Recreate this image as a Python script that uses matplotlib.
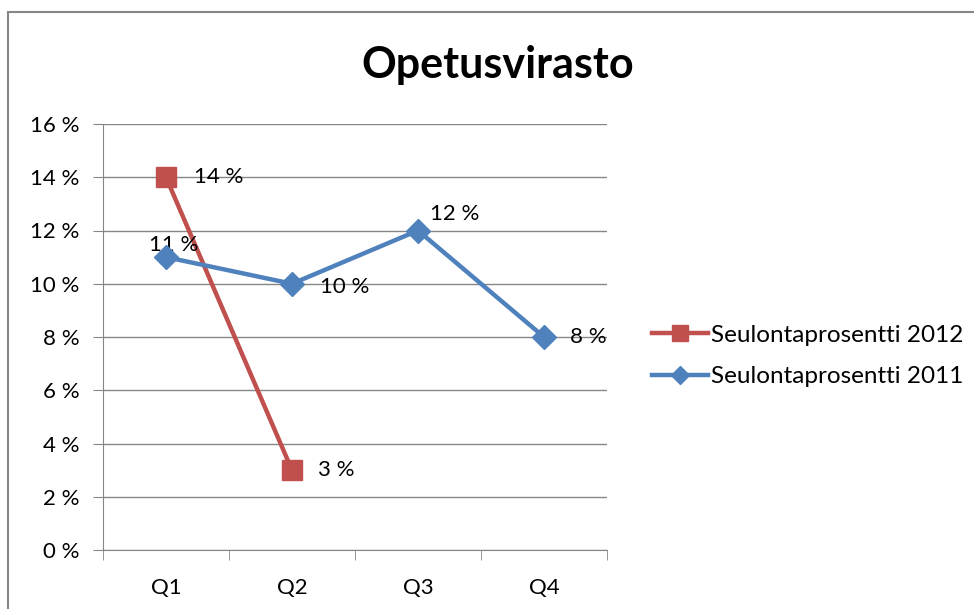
import matplotlib
matplotlib.use("Agg")
import matplotlib.pyplot as plt
from matplotlib.patches import Rectangle
from matplotlib.ticker import FuncFormatter

plt.rcParams["font.family"] = ["Lato", "DejaVu Sans"]

quarters = ["Q1", "Q2", "Q3", "Q4"]
pct_2012 = [14, 3]
pct_2011 = [11, 10, 12, 8]
RED = "#C0504D"
BLUE = "#4F81BD"

fig = plt.figure(figsize=(9.74, 6.09), dpi=100)
# chart frame (cropped at right/bottom in the reference)
fig.patches.append(Rectangle((8 / 974, -0.05), 1.2, 1 - 12 / 609 + 0.05,
                             transform=fig.transFigure, fill=False,
                             edgecolor="#878787", lw=1.5))

ax = fig.add_axes([103 / 974, 1 - 550 / 609, (607 - 103) / 974, (550 - 124) / 609])
x = list(range(len(quarters)))

l12, = ax.plot(x[:len(pct_2012)], pct_2012, color=RED, lw=3.2, marker="s", ms=15,
               label="Seulontaprosentti 2012", zorder=3)
l11, = ax.plot(x, pct_2011, color=BLUE, lw=3.2, marker="D", ms=12,
               label="Seulontaprosentti 2011", zorder=4)

# data labels
offs12 = [(20, 0), (19, 0)]
for xi, v, o in zip(x, pct_2012, offs12):
    ax.annotate(f"{v} %", (xi, v), xytext=o, textcoords="offset points",
                ha="left", va="center", fontsize=16)
offs11 = [(-12, 9), (20, -2), (9, 12), (19, 0)]
for xi, v, o in zip(x, pct_2011, offs11):
    ax.annotate(f"{v} %", (xi, v), xytext=o, textcoords="offset points",
                ha="left", va="center", fontsize=16)

ax.set_xlim(-0.5, 3.5)
ax.set_ylim(0, 16)
ax.set_yticks(range(0, 17, 2))
ax.yaxis.set_major_formatter(FuncFormatter(lambda v, _: f"{int(v)} %"))
ax.set_xticks(x)
ax.set_xticklabels(quarters)
ax.set_xticks([-0.5, 0.5, 1.5, 2.5, 3.5], minor=True)
ax.grid(axis="y", color="#868686", lw=1)
ax.set_axisbelow(True)
for s in ["top", "right"]:
    ax.spines[s].set_visible(False)
ax.spines["left"].set_color("#868686")
ax.spines["bottom"].set_color("#868686")
ax.tick_params(axis="y", length=7, color="#868686", labelsize=16, pad=10)
ax.tick_params(axis="x", which="major", length=0, labelsize=16, pad=20)
ax.tick_params(axis="x", which="minor", length=7, color="#868686")

fig.text(498 / 974, 1 - 65 / 609, "Opetusvirasto", ha="center", va="center",
         fontsize=31, fontweight="bold")

fig.legend(handles=[l12, l11], loc="center left",
           bbox_to_anchor=(630 / 974, 1 - 356 / 609), frameon=False,
           fontsize=17.5, handlelength=2.3, handletextpad=0.15, labelspacing=0.85,
           markerscale=0.75)

fig.savefig("out.png", dpi=100)
